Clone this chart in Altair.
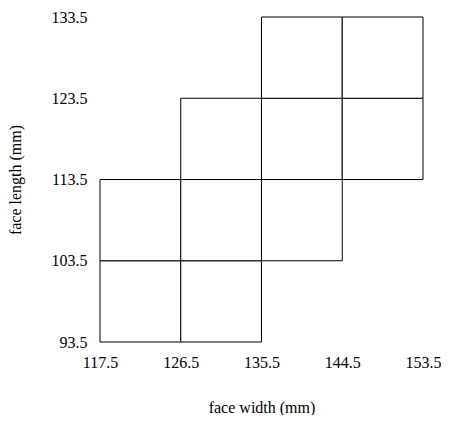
import altair as alt
import pandas as pd

# cell boundaries (face width / face length, mm)
x_lo = [117.5, 126.5, 117.5, 126.5, 135.5, 126.5, 135.5, 144.5, 135.5, 144.5]
x_hi = [126.5, 135.5, 126.5, 135.5, 144.5, 135.5, 144.5, 153.5, 144.5, 153.5]
y_lo = [93.5, 93.5, 103.5, 103.5, 103.5, 113.5, 113.5, 113.5, 123.5, 123.5]
y_hi = [103.5, 103.5, 113.5, 113.5, 113.5, 123.5, 123.5, 123.5, 133.5, 133.5]

x_ticks = [117.5, 126.5, 135.5, 144.5, 153.5]
y_ticks = [93.5, 103.5, 113.5, 123.5, 133.5]

df = pd.DataFrame({"x": x_lo, "x2": x_hi, "y": y_lo, "y2": y_hi})

font = "Liberation Serif"
common = dict(domain=False, ticks=False, grid=False, labelFont=font, titleFont=font,
              labelFontSize=16, titleFontSize=16, titleFontWeight="normal",
              labelColor="black", titleColor="black",
              labelFlush=False, labelOverlap=False, labelBound=False)

chart = alt.Chart(df).mark_rect(fill="white", stroke="black", strokeWidth=1).encode(
    x=alt.X("x:Q", scale=alt.Scale(domain=[117.5, 153.5], nice=False, zero=False),
            axis=alt.Axis(values=x_ticks, format=".1f", title="face width (mm)",
                          labelPadding=12, titlePadding=29, **common)),
    x2="x2:Q",
    y=alt.Y("y:Q", scale=alt.Scale(domain=[93.5, 133.5], nice=False, zero=False),
            axis=alt.Axis(values=y_ticks, format=".1f", title="face length (mm)",
                          labelPadding=13, titlePadding=28, **common)),
    y2="y2:Q",
).properties(
    width=323, height=325,
    autosize=alt.AutoSizeParams(type="none"),
    padding={"left": 92, "top": 9, "right": 18, "bottom": 73},
).configure_view(stroke=None)

chart.save("out.html", embed_options={"renderer": "svg", "actions": False})
